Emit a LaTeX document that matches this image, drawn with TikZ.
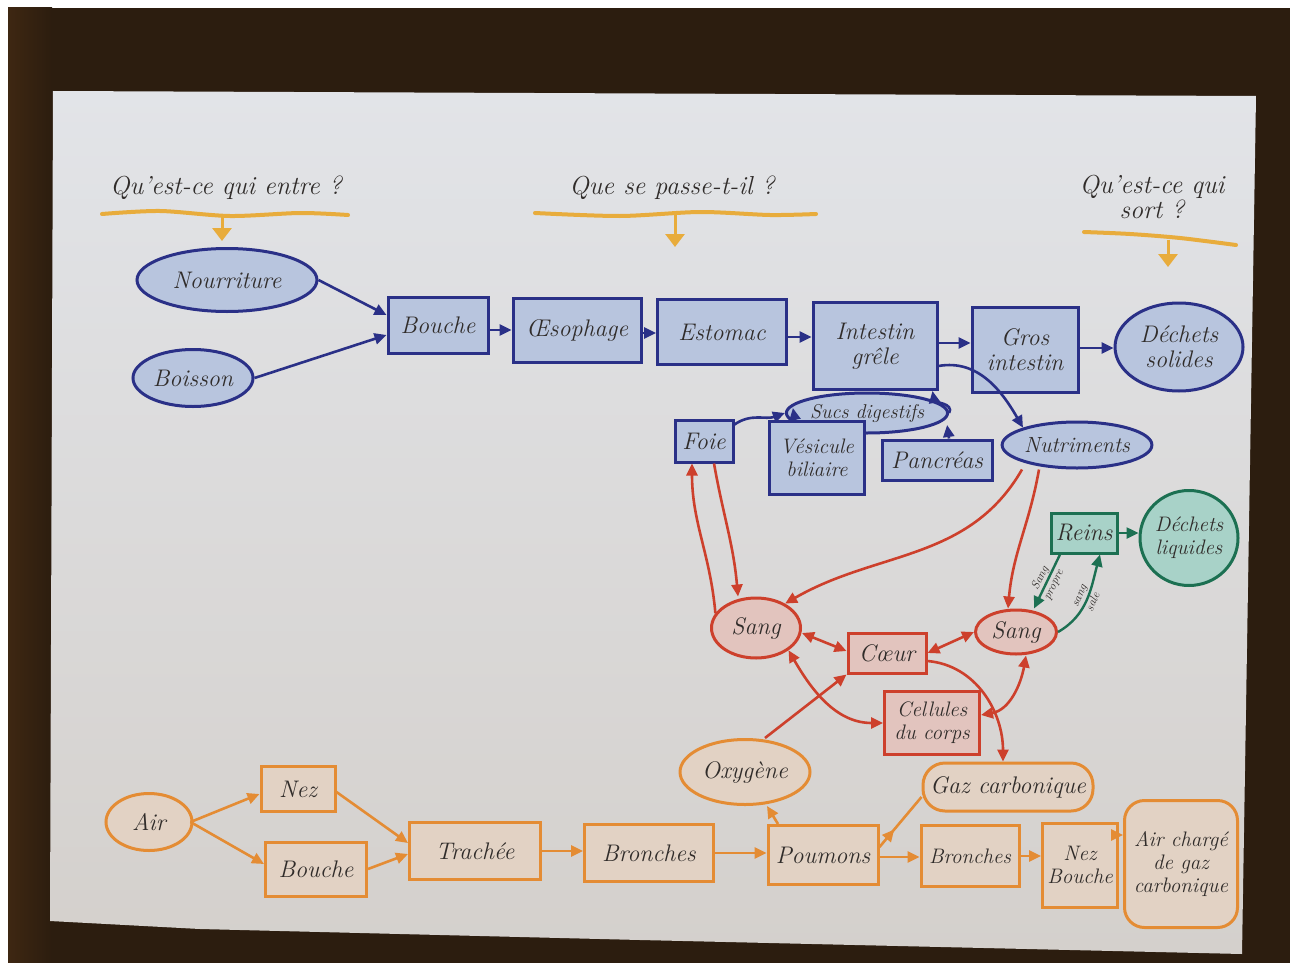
\documentclass[tikz,border=0pt]{standalone}
\usetikzlibrary{shapes.geometric,arrows.meta,decorations.markings}
\definecolor{wood}{RGB}{44,29,15}
\definecolor{woodlight}{RGB}{62,39,18}
\definecolor{paperT}{RGB}{226,228,232}
\definecolor{paperB}{RGB}{212,208,204}
\definecolor{navy}{RGB}{42,48,135}
\definecolor{navyfill}{RGB}{184,197,222}
\definecolor{redline}{RGB}{205,64,44}
\definecolor{redfill}{RGB}{226,196,190}
\definecolor{greenline}{RGB}{28,112,82}
\definecolor{greenfill}{RGB}{168,210,200}
\definecolor{orangeline}{RGB}{228,140,52}
\definecolor{orangefill}{RGB}{226,210,196}
\definecolor{gold}{RGB}{232,172,60}
\definecolor{ink}{RGB}{48,44,42}
\begin{document}
\begin{tikzpicture}[x=1pt,y=-1pt,
  hand/.style={font=\fontsize{24}{25}\selectfont\itshape, text=ink, align=center, inner sep=0pt},
  mid/.style={font=\fontsize{21}{23}\selectfont\itshape},
  head/.style={font=\fontsize{26}{28}\selectfont\itshape, text=ink, align=center},
  lab/.style={font=\fontsize{12}{12}\selectfont\itshape, text=ink, align=center, inner sep=0pt},
  bbox/.style={hand, rectangle, draw=navy, fill=navyfill, line width=3pt},
  bell/.style={hand, ellipse, draw=navy, fill=navyfill, line width=3pt},
  rbox/.style={hand, rectangle, draw=redline, fill=redfill, line width=3pt},
  rell/.style={hand, ellipse, draw=redline, fill=redfill, line width=3pt},
  gbox/.style={hand, rectangle, draw=greenline, fill=greenfill, line width=3pt},
  gell/.style={hand, ellipse, draw=greenline, fill=greenfill, line width=3pt},
  obox/.style={hand, rectangle, draw=orangeline, fill=orangefill, line width=3pt},
  oell/.style={hand, ellipse, draw=orangeline, fill=orangefill, line width=3pt},
  tip/.style={-{Triangle[length=12pt,width=11pt]}},
  barrow/.style={draw=navy, line width=2.6pt, tip},
  rarrow/.style={draw=redline, line width=2.6pt, tip},
  rboth/.style={draw=redline, line width=2.6pt, {Triangle[length=12pt,width=11pt]}-{Triangle[length=12pt,width=11pt]}},
  garrow/.style={draw=greenline, line width=2.4pt, tip},
  oarrow/.style={draw=orangeline, line width=2.6pt, tip},
  omid/.style={draw=orangeline, line width=2.6pt, postaction={decorate},
    decoration={markings, mark=at position 0.35 with {\arrow{Triangle[length=12pt,width=11pt]}}}},
  wave/.style={draw=gold, line width=4pt, line cap=round},
  garrowhead/.style={draw=gold, line width=3pt, -{Triangle[length=13pt,width=19pt]}},
]
\useasboundingbox (0,0) rectangle (1295,963);
% table and sheet
\fill[white] (0,0) rectangle (1295,963);
\fill[wood] (8,8) rectangle (1290,963);
\shade[left color=woodlight, right color=wood] (8,8) rectangle (52,963);
\shade[top color=paperT, bottom color=paperB]
  (53,91) -- (1256,96) -- (1242,954) -- (640,940) -- (200,929) -- (50,921) -- cycle;

% column headings
\node[head] (h1) at (226,188) {Qu'est-ce qui entre ?};
\node[head] (h2) at (672,188) {Que se passe-t-il ?};
\node[head] (h3) at (1152,197) {Qu'est-ce qui\\[-3pt]sort ?};
\draw[wave] plot[smooth] coordinates {(102,214) (160,211) (230,216) (300,213) (348,215)};
\draw[wave] plot[smooth] coordinates {(535,213) (620,216) (700,212) (770,215) (816,214)};
\draw[wave] plot[smooth] coordinates {(1084,232) (1130,234) (1180,238) (1236,245)};
\coordinate (u1) at (222,216); \coordinate (u1t) at (222,241);
\coordinate (u2) at (675,215); \coordinate (u2t) at (675,247);
\coordinate (u3) at (1168,240); \coordinate (u3t) at (1168,267);
\draw[garrowhead] (u1) -- (u1t);
\draw[garrowhead] (u2) -- (u2t);
\draw[garrowhead] (u3) -- (u3t);

% digestion (blue)
\node[bell, minimum width=180, minimum height=63] (nour) at (227,280) {Nourriture};
\node[bell, minimum width=120, minimum height=57] (boiss) at (193,378) {Boisson};
\node[bbox, minimum width=100, minimum height=56] (bouche) at (438,325) {Bouche};
\node[bbox, minimum width=128, minimum height=64] (oeso) at (577,330) {Œsophage};
\node[bbox, minimum width=129, minimum height=65] (estomac) at (722,332) {Estomac};
\node[bbox, minimum width=124, minimum height=87] (intestin) at (875,346) {Intestin\\grêle};
\node[bbox, minimum width=106, minimum height=85] (gros) at (1025,350) {Gros\\intestin};
\node[bell, minimum width=128, minimum height=88] (dsol) at (1179,347) {Déchets\\solides};
\node[bell, font=\fontsize{20}{22}\selectfont\itshape, minimum width=160, minimum height=40] (sucs) at (867,413) {Sucs digestifs};
\node[bbox, minimum width=58, minimum height=42] (foie) at (704,441) {Foie};
\node[bbox, mid, minimum width=95, minimum height=73] (vesic) at (817,458) {Vésicule\\biliaire};
\node[bbox, minimum width=110, minimum height=40] (pancr) at (937,460) {Pancréas};
\node[bell, font=\fontsize{22}{24}\selectfont\itshape, minimum width=141, minimum height=46] (nutri) at (1077,445) {Nutriments};

% blood (red)
\node[rell, minimum width=89, minimum height=60] (sangL) at (756,628) {Sang};
\node[rbox, minimum width=78, minimum height=40] (coeur) at (887,653) {Cœur};
\node[rell, minimum width=81, minimum height=44] (sangR) at (1016,632) {Sang};
\node[rbox, mid, minimum width=95, minimum height=63] (cell) at (932,723) {Cellules\\du corps};

% kidneys (green)
\node[gbox, minimum width=66, minimum height=40] (reins) at (1084,533) {Reins};
\node[gell, mid, minimum width=98, minimum height=95] (dliq) at (1189,538) {Déchets\\liquides};

% breathing (orange)
\node[oell, minimum width=86, minimum height=57] (air) at (149,822) {Air};
\node[obox, minimum width=74, minimum height=45] (nez) at (298,789) {Nez};
\node[obox, minimum width=101, minimum height=54] (boucheO) at (316,869) {Bouche};
\node[obox, minimum width=131, minimum height=57] (trachee) at (475,851) {Trachée};
\node[obox, minimum width=129, minimum height=57] (bronches) at (649,853) {Bronches};
\node[obox, minimum width=110, minimum height=59] (poumons) at (823,855) {Poumons};
\node[obox, mid, minimum width=98, minimum height=61] (bronches2) at (970,856) {Bronches};
\node[obox, mid, minimum width=75, minimum height=84] (nezb) at (1080,865) {Nez\\Bouche};
\node[obox, mid, rounded corners=20pt, minimum width=113, minimum height=127] (airch) at (1181,864) {Air chargé\\de gaz\\carbonique};
\node[oell, minimum width=130, minimum height=65] (oxy) at (745,772) {Oxygène};
\node[obox, rounded corners=22pt, minimum width=170, minimum height=48] (gaz) at (1008,787) {Gaz carbonique};

% digestion arrows
\draw[barrow] (nour.east) -- ([yshift=10pt]bouche.west);
\draw[barrow] (boiss.east) -- ([yshift=-10pt]bouche.west);
\draw[barrow] ([yshift=-5pt]bouche.east) -- ([yshift=-5pt]bouche.east -| oeso.west);
\draw[barrow] ([yshift=-3pt]oeso.east) -- ([yshift=-3pt]oeso.east -| estomac.west);
\draw[barrow] ([yshift=-5pt]estomac.east) -- ([yshift=-5pt]estomac.east -| intestin.west);
\draw[barrow] ([yshift=3pt]intestin.east) -- ([yshift=3pt]intestin.east -| gros.west);
\draw[barrow] ([yshift=2pt]gros.east) -- ([yshift=2pt]gros.east -| dsol.west);
\draw[barrow] ([yshift=-6pt]foie.north east) to[out=35,in=200] (sucs.west);
\draw[barrow] ([xshift=-22pt]vesic.north) -- ([xshift=8pt,yshift=5pt]sucs.west);
\draw[barrow] ([xshift=12pt]pancr.north) -- ([xshift=-2pt,yshift=-12pt]sucs.east);
\draw[barrow] (sucs.east) to[out=60,in=-80] ([xshift=-6pt]intestin.south east);
\draw[barrow] ([yshift=-20pt]intestin.east) to[out=10,in=120] (nutri.north west);

% blood arrows
\draw[rarrow] (sangL.160) to[out=95,in=-90] ([xshift=-12pt]foie.south);
\draw[rarrow] ([xshift=10pt]foie.south) to[out=-80,in=95] ([xshift=-18pt]sangL.north);
\draw[rarrow] ([xshift=-55pt]nutri.south) to[out=-120,in=30] (sangL.40);
\draw[rarrow] ([xshift=-38pt]nutri.south) to[out=-100,in=85] ([xshift=-8pt]sangR.north);
\draw[rboth] ([yshift=-5pt]sangL.east) -- ([yshift=2pt]coeur.west);
\draw[rboth] (coeur.east) -- (sangR.west);
\draw[rboth] (sangL.south east) to[out=-60,in=180] (cell.west);
\draw[rboth] ([xshift=10pt]sangR.south) to[out=-100,in=10] ([yshift=8pt]cell.east);
\draw[rarrow] ([xshift=20pt]oxy.north) -- (coeur.south west);
\draw[rarrow] ([yshift=-8pt]coeur.east) to[out=-5,in=90] ([xshift=-5pt]gaz.north);

% kidney arrows, each label written on both sides of its line
\draw[garrow] (reins.east) -- (reins.east -| dliq.west);
\draw[garrow] ([xshift=-24pt]reins.south) -- node[lab, sloped] {Sang\\[3pt]propre} ([xshift=18pt]sangR.north);
\draw[garrow] (sangR.east) to[out=30,in=-105] node[lab, sloped] {sang\\[3pt]sale} ([xshift=16pt]reins.south);

% breathing arrows
\draw[oarrow] ([xshift=-3pt]air.east) -- ([yshift=-5pt]nez.west);
\draw[oarrow] ([xshift=-3pt]air.east) -- ([yshift=5pt]boucheO.west);
\draw[oarrow] ([yshift=-3pt]nez.east) -- ([yshift=8pt]trachee.west);
\draw[oarrow] (boucheO.east) -- ([yshift=-3pt]trachee.west);
\draw[oarrow] (trachee.east) -- (trachee.east -| bronches.west);
\draw[oarrow] (bronches.east) -- (bronches.east -| poumons.west);
\draw[oarrow] ([xshift=-45pt]poumons.north) -- ([xshift=22pt]oxy.south);
\draw[omid] ([yshift=8pt]poumons.east) -- ([yshift=-10pt]gaz.west);
\draw[oarrow] ([yshift=-2pt]poumons.east) -- ([yshift=-2pt]poumons.east -| bronches2.west);
\draw[oarrow] (bronches2.east) -- (bronches2.east -| nezb.west);
\draw[oarrow] ([yshift=30pt]nezb.east) -- ([yshift=30pt]nezb.east -| airch.west);
\end{tikzpicture}
\end{document}
